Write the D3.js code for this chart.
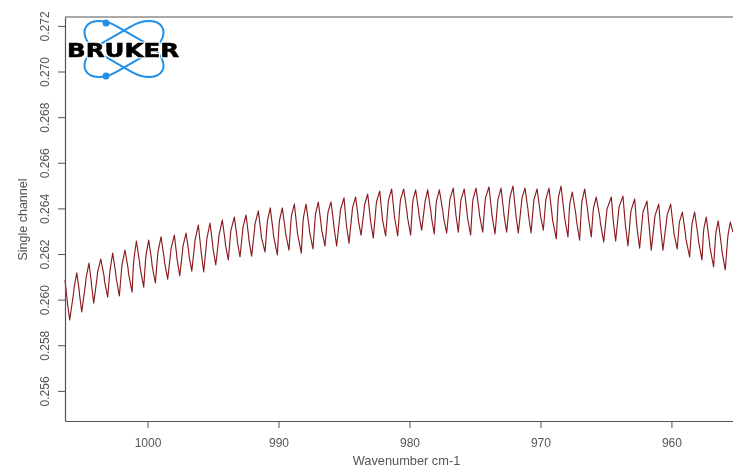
<!DOCTYPE html>
<html>
<head>
<meta charset="utf-8">
<script src="https://d3js.org/d3.v7.min.js"></script>
<style>
    html, body { margin: 0; padding: 0; background: #fff; overflow: hidden; }
    svg { display: block; }
    text { font-family: "Liberation Sans", Arial, sans-serif; fill: #555; }
</style>
</head>
<body>
<div id="chart"></div>
<script>
const xTicks = [1000, 990, 980, 970, 960];
const yTicks = [0.256, 0.258, 0.260, 0.262, 0.264, 0.266, 0.268, 0.270, 0.272];

// one row per fringe: shelf, trough, shelf, peak
const wavenumbers = [
    1006.30, 1006.15, 1006.11, 1005.94, 1005.65, 1005.61, 1005.40,
    1005.23, 1005.19, 1005.02, 1004.73, 1004.69, 1004.47,
    1004.31, 1004.27, 1004.11, 1003.86, 1003.82, 1003.57,
    1003.32, 1003.28, 1003.04, 1002.90, 1002.86, 1002.66,
    1002.44, 1002.40, 1002.15, 1001.99, 1001.95, 1001.72,
    1001.49, 1001.45, 1001.18, 1001.07, 1001.03, 1000.85,
    1000.61, 1000.57, 1000.29, 1000.15, 1000.11, 999.91,
    999.69, 999.65, 999.40, 999.24, 999.20, 998.97,
    998.74, 998.70, 998.46, 998.25, 998.21, 997.95,
    997.79, 997.75, 997.54, 997.33, 997.29, 997.06,
    996.87, 996.83, 996.62, 996.41, 996.37, 996.12,
    995.95, 995.91, 995.71, 995.50, 995.46, 995.23,
    995.04, 995.00, 994.79, 994.58, 994.54, 994.29,
    994.08, 994.04, 993.83, 993.67, 993.63, 993.37,
    993.17, 993.13, 992.94, 992.75, 992.71, 992.48,
    992.29, 992.25, 992.05, 991.83, 991.79, 991.54,
    991.34, 991.30, 991.03, 990.88, 990.84, 990.63,
    990.42, 990.38, 990.09, 989.96, 989.92, 989.71,
    989.50, 989.46, 989.20, 989.05, 989.01, 988.79,
    988.59, 988.55, 988.26, 988.13, 988.09, 987.90,
    987.67, 987.63, 987.37, 987.21, 987.17, 986.96,
    986.75, 986.71, 986.45, 986.26, 986.22, 985.99,
    985.80, 985.76, 985.56, 985.31, 985.27, 985.00,
    984.85, 984.81, 984.62, 984.39, 984.35, 984.11,
    983.93, 983.89, 983.70, 983.47, 983.43, 983.19,
    983.01, 982.97, 982.76, 982.56, 982.52, 982.27,
    982.10, 982.06, 981.82, 981.64, 981.60, 981.36,
    981.18, 981.14, 980.90, 980.73, 980.69, 980.44,
    980.19, 980.15, 979.91, 979.77, 979.73, 979.53,
    979.31, 979.27, 979.07, 978.86, 978.82, 978.61,
    978.36, 978.32, 978.11, 977.98, 977.94, 977.72,
    977.44, 977.40, 977.16, 976.95, 976.91, 976.66,
    976.49, 976.45, 976.27, 976.11, 976.07, 975.82,
    975.61, 975.57, 975.33, 975.19, 975.15, 974.92,
    974.69, 974.65, 974.41, 974.24, 974.20, 973.93,
    973.74, 973.70, 973.47, 973.28, 973.24, 973.01,
    972.82, 972.78, 972.58, 972.37, 972.33, 972.10,
    971.91, 971.87, 971.69, 971.45, 971.41, 971.18,
    970.95, 970.91, 970.72, 970.54, 970.50, 970.26,
    970.04, 970.00, 969.78, 969.62, 969.58, 969.35,
    969.12, 969.08, 968.79, 968.66, 968.62, 968.43,
    968.20, 968.16, 967.90, 967.79, 967.75, 967.57,
    967.29, 967.25, 967.01, 966.87, 966.83, 966.62,
    966.37, 966.33, 966.12, 965.99, 965.95, 965.74,
    965.46, 965.42, 965.17, 964.96, 964.92, 964.59,
    964.46, 964.42, 964.26, 964.04, 964.00, 963.70,
    963.55, 963.51, 963.32, 963.13, 963.09, 962.81,
    962.67, 962.63, 962.43, 962.21, 962.17, 961.87,
    961.72, 961.68, 961.54, 961.30, 961.26, 960.97,
    960.84, 960.80, 960.65, 960.38, 960.34, 960.06,
    959.85, 959.81, 959.56, 959.43, 959.39, 959.17,
    958.93, 958.89, 958.61, 958.47, 958.43, 958.23,
    957.97, 957.93, 957.67, 957.56, 957.52, 957.34,
    957.10, 957.06, 956.78, 956.64, 956.60, 956.43,
    956.18, 956.14, 955.89, 955.72, 955.68, 955.51,
    955.30
];
const singleChannel = [
    0.26086, 0.26007, 0.25983, 0.25911, 0.26027, 0.26051, 0.26117,
    0.26046, 0.26022, 0.25946, 0.26071, 0.26095, 0.26160,
    0.26086, 0.26062, 0.25985, 0.26093, 0.26117, 0.26178,
    0.26104, 0.26080, 0.26011, 0.26106, 0.26130, 0.26204,
    0.26121, 0.26097, 0.26016, 0.26128, 0.26152, 0.26217,
    0.26139, 0.26115, 0.26033, 0.26158, 0.26182, 0.26257,
    0.26165, 0.26141, 0.26055, 0.26172, 0.26196, 0.26261,
    0.26174, 0.26150, 0.26073, 0.26185, 0.26209, 0.26275,
    0.26187, 0.26163, 0.26090, 0.26198, 0.26222, 0.26283,
    0.26204, 0.26180, 0.26104, 0.26211, 0.26235, 0.26292,
    0.26217, 0.26193, 0.26125, 0.26237, 0.26261, 0.26327,
    0.26235, 0.26211, 0.26121, 0.26246, 0.26270, 0.26336,
    0.26248, 0.26224, 0.26152, 0.26259, 0.26283, 0.26349,
    0.26261, 0.26237, 0.26174, 0.26281, 0.26305, 0.26362,
    0.26275, 0.26251, 0.26187, 0.26294, 0.26318, 0.26371,
    0.26283, 0.26259, 0.26191, 0.26308, 0.26332, 0.26389,
    0.26296, 0.26272, 0.26209, 0.26321, 0.26345, 0.26402,
    0.26305, 0.26281, 0.26196, 0.26325, 0.26349, 0.26402,
    0.26314, 0.26290, 0.26217, 0.26343, 0.26367, 0.26419,
    0.26314, 0.26290, 0.26204, 0.26338, 0.26362, 0.26419,
    0.26323, 0.26299, 0.26222, 0.26352, 0.26376, 0.26428,
    0.26332, 0.26308, 0.26235, 0.26360, 0.26384, 0.26428,
    0.26340, 0.26316, 0.26235, 0.26369, 0.26393, 0.26446,
    0.26349, 0.26325, 0.26248, 0.26378, 0.26402, 0.26450,
    0.26367, 0.26343, 0.26283, 0.26391, 0.26415, 0.26463,
    0.26367, 0.26343, 0.26270, 0.26404, 0.26428, 0.26476,
    0.26375, 0.26351, 0.26279, 0.26413, 0.26437, 0.26485,
    0.26384, 0.26360, 0.26279, 0.26413, 0.26437, 0.26485,
    0.26384, 0.26360, 0.26283, 0.26413, 0.26437, 0.26481,
    0.26393, 0.26369, 0.26305, 0.26404, 0.26428, 0.26481,
    0.26384, 0.26360, 0.26288, 0.26408, 0.26432, 0.26481,
    0.26384, 0.26360, 0.26292, 0.26417, 0.26441, 0.26489,
    0.26393, 0.26369, 0.26296, 0.26413, 0.26437, 0.26485,
    0.26384, 0.26360, 0.26283, 0.26417, 0.26441, 0.26489,
    0.26393, 0.26369, 0.26296, 0.26422, 0.26446, 0.26494,
    0.26393, 0.26369, 0.26288, 0.26417, 0.26441, 0.26489,
    0.26393, 0.26369, 0.26296, 0.26426, 0.26450, 0.26498,
    0.26393, 0.26369, 0.26292, 0.26422, 0.26446, 0.26489,
    0.26393, 0.26369, 0.26292, 0.26413, 0.26437, 0.26485,
    0.26393, 0.26369, 0.26305, 0.26417, 0.26441, 0.26489,
    0.26375, 0.26351, 0.26266, 0.26426, 0.26450, 0.26498,
    0.26384, 0.26360, 0.26275, 0.26400, 0.26424, 0.26472,
    0.26371, 0.26347, 0.26261, 0.26408, 0.26432, 0.26485,
    0.26380, 0.26356, 0.26275, 0.26378, 0.26402, 0.26450,
    0.26358, 0.26334, 0.26253, 0.26373, 0.26397, 0.26450,
    0.26358, 0.26334, 0.26257, 0.26382, 0.26406, 0.26454,
    0.26349, 0.26325, 0.26235, 0.26365, 0.26389, 0.26441,
    0.26340, 0.26316, 0.26226, 0.26360, 0.26384, 0.26432,
    0.26332, 0.26308, 0.26217, 0.26343, 0.26367, 0.26419,
    0.26323, 0.26299, 0.26217, 0.26343, 0.26367, 0.26419,
    0.26314, 0.26290, 0.26222, 0.26316, 0.26340, 0.26384,
    0.26288, 0.26264, 0.26187, 0.26308, 0.26332, 0.26384,
    0.26279, 0.26255, 0.26174, 0.26290, 0.26314, 0.26362,
    0.26253, 0.26229, 0.26143, 0.26272, 0.26296, 0.26345,
    0.26235, 0.26211, 0.26130, 0.26259, 0.26283, 0.26340,
    0.26296
];

const width = 733;
const height = 469;
const margin = { top: 17, right: 0, bottom: 48, left: 65 };
const axisColor = "#555";

const svg = d3.select("#chart").append("svg")
    .attr("width", width)
    .attr("height", height)
    .style("filter", "blur(0.45px)");

const x = d3.scaleLinear()
    .domain([1006.30, 955.30])
    .range([margin.left, width - margin.right]);

const y = d3.scaleLinear()
    .domain([0.25468, 0.27239])
    .range([height - margin.bottom, margin.top]);

// spectrum
const line = d3.line()
    .x((d, i) => x(wavenumbers[i]))
    .y(d => y(d));

svg.append("path")
    .datum(singleChannel)
    .attr("d", line)
    .attr("fill", "none")
    .attr("stroke", "#8b1a1f")
    .attr("stroke-width", 1.15)
    .attr("stroke-linejoin", "round");

// axes, R style: box open at the cropped right edge
const xAxis = svg.append("g")
    .attr("transform", `translate(0,${height - margin.bottom})`)
    .call(d3.axisBottom(x).tickValues(xTicks).tickSizeInner(7).tickSizeOuter(0).tickPadding(10).tickFormat(d3.format("d")));

const yAxis = svg.append("g")
    .attr("transform", `translate(${margin.left},0)`)
    .call(d3.axisLeft(y).tickValues(yTicks).tickSizeInner(7).tickSizeOuter(0).tickPadding(7).tickFormat(d3.format(".3f")));

[xAxis, yAxis].forEach(axis => {
    axis.selectAll(".domain").attr("stroke", axisColor).attr("stroke-width", 1.2);
    axis.selectAll(".tick line").attr("stroke", axisColor);
    axis.selectAll("text").style("font-size", "12px").attr("fill", axisColor);
});

yAxis.selectAll(".tick text")
    .attr("transform", "rotate(-90)")
    .attr("x", 0)
    .attr("y", -16)
    .attr("dy", 0)
    .style("text-anchor", "middle");

svg.append("line")
    .attr("x1", margin.left).attr("x2", width)
    .attr("y1", margin.top).attr("y2", margin.top)
    .attr("stroke", axisColor)
    .attr("stroke-width", 1.2);

svg.append("text")
    .attr("x", 406.5)
    .attr("y", 465)
    .attr("text-anchor", "middle")
    .style("font-size", "12.8px")
    .text("Wavenumber cm-1");

svg.append("text")
    .attr("transform", "translate(27,219.5) rotate(-90)")
    .attr("text-anchor", "middle")
    .style("font-size", "12.5px")
    .text("Single channel");

// logo
const logo = svg.append("g");

[-30, 30].forEach(angle => {
    logo.append("rect")
        .attr("x", -44).attr("y", -16)
        .attr("width", 88).attr("height", 32)
        .attr("rx", 26).attr("ry", 16)
        .attr("transform", `translate(124,49) rotate(${angle})`)
        .attr("fill", "none")
        .attr("stroke", "#2090e8")
        .attr("stroke-width", 2);
});

[23, 76].forEach(cy => {
    logo.append("circle")
        .attr("cx", 106).attr("cy", cy).attr("r", 3.5)
        .attr("fill", "#2090e8");
});

// white halo under the wordmark, then the wordmark
[["#fff", 2.5], ["#000", 0.6]].forEach(([stroke, strokeWidth]) => {
    logo.append("text")
        .attr("x", 67)
        .attr("y", 57)
        .attr("textLength", 112)
        .attr("lengthAdjust", "spacingAndGlyphs")
        .style("font-family", "'DejaVu Sans', sans-serif")
        .style("font-weight", "bold")
        .style("font-size", "19px")
        .style("fill", "#000")
        .style("stroke", stroke)
        .style("stroke-width", strokeWidth + "px")
        .text("BRUKER");
});
</script>
</body>
</html>
